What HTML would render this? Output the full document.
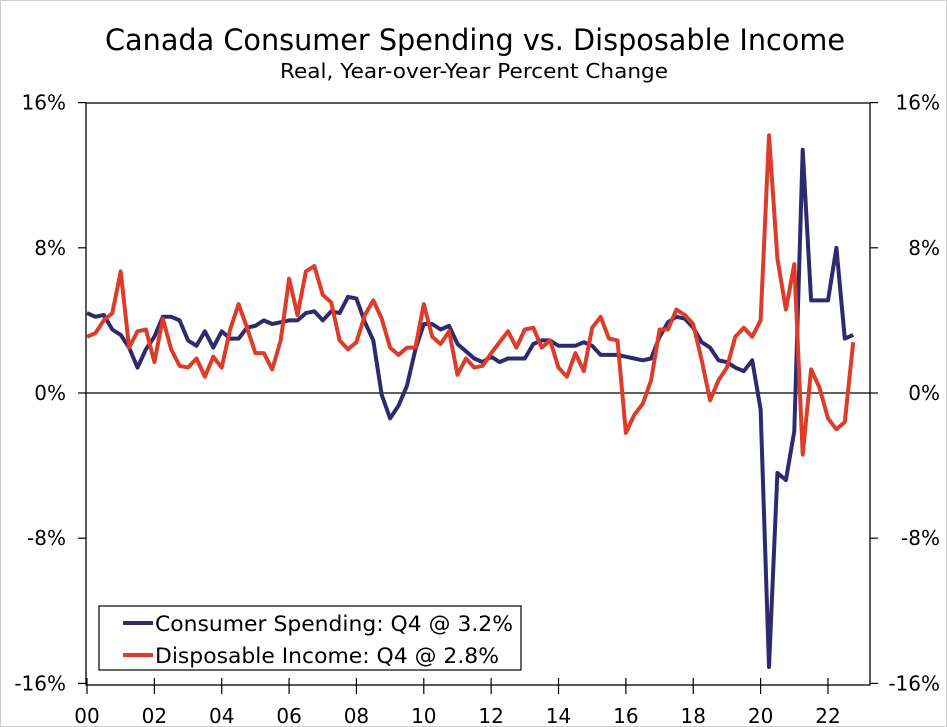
<!DOCTYPE html>
<html><head><meta charset="utf-8"><style>
html,body{margin:0;padding:0;background:#fff}
svg{display:block;font-family:"DejaVu Sans","Liberation Sans",sans-serif}
</style></head><body>
<svg id="chart" width="947" height="727" viewBox="0 0 947 727">
<rect x="0.5" y="0.5" width="946" height="726" fill="#fff" stroke="#ccc"/>
<text x="475" y="50" text-anchor="middle" font-size="29" textLength="740" lengthAdjust="spacingAndGlyphs" fill="#000">Canada Consumer Spending vs. Disposable Income</text>
<text x="474" y="78" text-anchor="middle" font-size="20" textLength="388" lengthAdjust="spacingAndGlyphs" fill="#000">Real, Year-over-Year Percent Change</text>
<g id="axes"></g>
<g id="series"></g>
<g>
<rect x="99" y="606" width="422" height="64" fill="#fff" stroke="#000" stroke-width="1.2"/>
<line x1="123" y1="623" x2="153" y2="623" stroke="#2e2a6e" stroke-width="4"/>
<text x="155" y="631" font-size="21" textLength="358" lengthAdjust="spacingAndGlyphs">Consumer Spending: Q4 @ 3.2%</text>
<line x1="123" y1="655" x2="153" y2="655" stroke="#dc3c28" stroke-width="4"/>
<text x="155" y="663" font-size="21" textLength="344" lengthAdjust="spacingAndGlyphs">Disposable Income: Q4 @ 2.8%</text>
</g>
</svg>
<script>
const yTicks=[16,8,0,-8,-16];
const yTickLabels=["16%","8%","0%","-8%","-16%"];
const xTickYears=[0,2,4,6,8,10,12,14,16,18,20,22];
const xTickLabels=["00","02","04","06","08","10","12","14","16","18","20","22"];
const spending=[4.4,4.2,4.3,3.5,3.2,2.5,1.4,2.4,3.1,4.2,4.2,4.0,2.9,2.6,3.4,2.5,3.4,3.0,3.0,3.6,3.7,4.0,3.8,3.9,4.0,4.0,4.4,4.5,4.0,4.5,4.4,5.3,5.2,3.9,2.9,-0.1,-1.4,-0.7,0.4,2.4,3.8,3.8,3.5,3.7,2.7,2.3,1.9,1.7,2.0,1.7,1.9,1.9,1.9,2.7,2.9,2.9,2.6,2.6,2.6,2.8,2.6,2.1,2.1,2.1,2.0,1.9,1.8,1.9,3.1,3.9,4.2,4.1,3.6,2.8,2.5,1.8,1.7,1.4,1.2,1.8,-0.9,-15.1,-4.4,-4.8,-2.1,13.4,5.1,5.1,5.1,8.0,3.0,3.2];
const income=[3.1,3.3,4.0,4.4,6.7,2.5,3.4,3.5,1.7,4.1,2.4,1.5,1.4,1.9,0.9,2.0,1.4,3.5,4.9,3.6,2.2,2.2,1.3,2.9,6.3,4.3,6.7,7.0,5.4,5.0,2.9,2.4,2.8,4.3,5.1,4.1,2.5,2.1,2.5,2.5,4.9,3.1,2.7,3.4,1.0,1.9,1.4,1.5,2.2,2.8,3.4,2.5,3.5,3.6,2.5,2.9,1.4,0.9,2.2,1.2,3.6,4.2,3.0,2.9,-2.2,-1.2,-0.6,0.7,3.5,3.5,4.6,4.3,3.8,1.8,-0.4,0.7,1.4,3.1,3.6,3.1,4.0,14.2,7.4,4.6,7.1,-3.4,1.3,0.3,-1.4,-2.0,-1.6,2.8];
const L=86,R=870,T=103,B=685;
const xYear=y=>87+y*33.68;
const xQ=i=>87+i*8.42;
const yV=v=>393-v*18.15;
const NS="http://www.w3.org/2000/svg";
const axes=document.getElementById('axes'),ser=document.getElementById('series');
function mk(tag,attrs,parent){const e=document.createElementNS(NS,tag);for(const k in attrs)e.setAttribute(k,attrs[k]);parent.appendChild(e);return e;}
let f=mk('rect',{x:L,y:T,width:R-L,height:B-T,fill:'none',stroke:'#000','stroke-width':1.3},axes);


let z=mk('line',{x1:L,x2:R,y1:yV(0),y2:yV(0),stroke:'#000','stroke-width':1.2},axes);


yTicks.forEach((v,k)=>{
  let t=mk('line',{x1:L-8,x2:L,y1:yV(v),y2:yV(v),stroke:'#000','stroke-width':1.2},axes);
  
  
  let t2=mk('line',{x1:R,x2:R+8,y1:yV(v),y2:yV(v),stroke:'#000','stroke-width':1.2},axes);
  
  
  let a=mk('text',{x:66,y:yV(v)+7,'text-anchor':'end','font-size':20},axes);a.textContent=yTickLabels[k];
  
  
  let b=mk('text',{x:940,y:yV(v)+7,'text-anchor':'end','font-size':20},axes);b.textContent=yTickLabels[k];
  
  
});
xTickYears.forEach((y,k)=>{
  let t=mk('line',{x1:xYear(y),x2:xYear(y),y1:B-7,y2:B+9,stroke:'#000','stroke-width':1.2},axes);
  
  
  let a=mk('text',{x:xYear(y),y:723,'text-anchor':'middle','font-size':20},axes);a.textContent=xTickLabels[k];
  
  
});
function line(arr,color,name){
  const d=arr.map((v,i)=>(i?'L':'M')+xQ(i).toFixed(1)+' '+yV(v).toFixed(1)).join(' ');
  let p=mk('path',{d:d,fill:'none',stroke:color,'stroke-width':4,'stroke-linejoin':'round'},ser);
  
  
}
line(spending,'#2e2a6e','consumer-spending-line');
line(income,'#dc3c28','disposable-income-line');
</script>
</body></html>
